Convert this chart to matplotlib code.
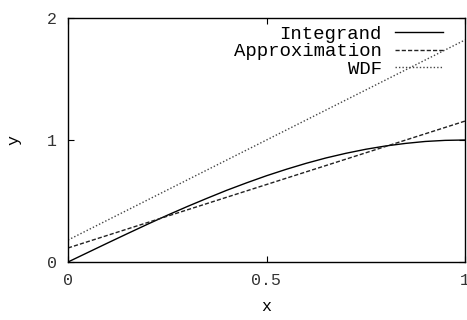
import matplotlib
matplotlib.use("Agg")
import matplotlib.pyplot as plt

# ── dane ────────────────────────────────────────────────────────────────
x_integrand = [0.0, 0.05, 0.1, 0.15, 0.2, 0.25, 0.3, 0.35, 0.4, 0.45, 0.5,
               0.55, 0.6, 0.65, 0.7, 0.75, 0.8, 0.85, 0.9, 0.95, 1.0]
y_integrand = [0.0, 0.078, 0.156, 0.233, 0.309, 0.383, 0.454, 0.522, 0.588,
               0.649, 0.707, 0.760, 0.809, 0.853, 0.891, 0.924, 0.951, 0.972,
               0.988, 0.997, 1.0]

x_approx = [0.0, 1.0]
y_approx = [0.115, 1.155]

x_wdf = [0.0, 1.0]
y_wdf = [0.18, 1.82]

labels = ["Integrand", "Approximation", "WDF"]
x_ticks = [0, 0.5, 1]
x_ticklabels = ["0", "0.5", "1"]
y_ticks = [0, 1, 2]

mono = "Liberation Mono"

fig = plt.figure(figsize=(4.67, 3.2), dpi=100)
ax = fig.add_axes([68 / 467, 1 - 262 / 320, 397 / 467, 244 / 320])

ax.plot(x_integrand, y_integrand, color="black", linewidth=1.0, label=labels[0])
ax.plot(x_approx, y_approx, color="#222222", linewidth=1.0,
        linestyle=(0, (3, 1.5)), label=labels[1])
ax.plot(x_wdf, y_wdf, color="#444444", linewidth=1.0,
        linestyle=(0, (1, 1.5)), label=labels[2])

ax.set_xlim(0, 1)
ax.set_ylim(0, 2)
ax.set_xticks(x_ticks)
ax.set_xticklabels(x_ticklabels)
ax.set_yticks(y_ticks)
ax.tick_params(direction="in", length=4, width=0.8, top=True, right=True,
               labelsize=12, pad=8)
for lab in ax.get_xticklabels() + ax.get_yticklabels():
    lab.set_fontfamily(mono)
    lab.set_color("#333333")
for s in ax.spines.values():
    s.set_linewidth(1.0)

ax.set_xlabel("x", fontfamily=mono, fontsize=12, labelpad=8)
ax.set_ylabel("y", fontfamily=mono, fontsize=12, labelpad=18)

leg = ax.legend(loc="upper right", bbox_to_anchor=(0.963, 1.0), frameon=False,
                prop={"family": mono, "size": 13.7}, markerfirst=False,
                handlelength=2.5, handletextpad=0.7, labelspacing=0.0,
                borderaxespad=0.0)
for t in leg.get_texts():
    t.set_ha("right")

fig.savefig("out.png", dpi=100)
